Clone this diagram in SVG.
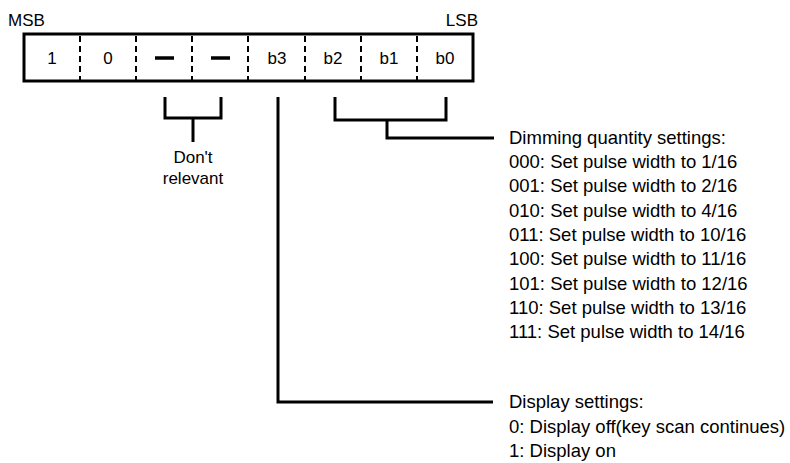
<svg xmlns="http://www.w3.org/2000/svg" width="790" height="463" viewBox="0 0 790 463">
<style>
text{font-family:"Liberation Sans",Arial,sans-serif;font-size:17px;fill:#000}
.c{text-anchor:middle}
.r{font-size:18.5px}
.box{fill:#fff;stroke:#000;stroke-width:3}
.div{stroke:#000;stroke-width:2;stroke-dasharray:6,4}
.ln{fill:none;stroke:#000;stroke-width:3;stroke-linejoin:miter}
.dash{stroke:#000;stroke-width:3.5}
</style>
<rect width="790" height="463" fill="#fff"/>
<g id="register">
<text x="8" y="26">MSB</text>
<text x="478" y="26" text-anchor="end">LSB</text>
<rect class="box" x="24" y="34" width="449" height="47"/>
<line class="div" x1="80" y1="36" x2="80" y2="80"/>
<line class="div" x1="136" y1="36" x2="136" y2="80"/>
<line class="div" x1="192" y1="36" x2="192" y2="80"/>
<line class="div" x1="248" y1="36" x2="248" y2="80"/>
<line class="div" x1="305" y1="36" x2="305" y2="80"/>
<line class="div" x1="361" y1="36" x2="361" y2="80"/>
<line class="div" x1="417" y1="36" x2="417" y2="80"/>
<text class="c" x="52" y="64">1</text>
<text class="c" x="108" y="64">0</text>
<line class="dash" x1="155" y1="58" x2="174" y2="58"/>
<line class="dash" x1="211" y1="58" x2="230" y2="58"/>
<text class="c" x="277" y="64">b3</text>
<text class="c" x="333" y="64">b2</text>
<text class="c" x="389" y="64">b1</text>
<text class="c" x="445" y="64">b0</text>
</g>
<g id="connectors">
<path class="ln" d="M165,97 V118 H221 V97 M193,118 V142"/>
<path class="ln" d="M278,97 V402 H493"/>
<path class="ln" d="M335,97 V120 H446 V97 M387,120 V138 H494"/>
</g>
<g id="dont-relevant">
<text class="c" x="193" y="163">Don't</text>
<text class="c" x="193" y="184">relevant</text>
</g>
<g id="dimming">
<text class="r" x="509" y="144">Dimming quantity settings:</text>
<text class="r" x="509" y="168">000: Set pulse width to 1/16</text>
<text class="r" x="509" y="192">001: Set pulse width to 2/16</text>
<text class="r" x="509" y="217">010: Set pulse width to 4/16</text>
<text class="r" x="509" y="241">011: Set pulse width to 10/16</text>
<text class="r" x="509" y="265">100: Set pulse width to 11/16</text>
<text class="r" x="509" y="290">101: Set pulse width to 12/16</text>
<text class="r" x="509" y="314">110: Set pulse width to 13/16</text>
<text class="r" x="509" y="338">111: Set pulse width to 14/16</text>
</g>
<g id="display">
<text class="r" x="509" y="408">Display settings:</text>
<text class="r" x="509" y="433">0: Display off(key scan continues)</text>
<text class="r" x="509" y="457">1: Display on</text>
</g>
</svg>
